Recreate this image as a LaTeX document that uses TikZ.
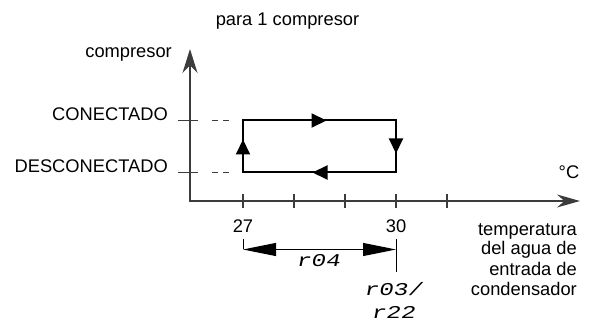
\documentclass[tikz,border=0pt]{standalone}
\usepackage{fontspec}
\setmainfont{Liberation Sans}
\newfontfamily\lcdfont[FakeStretch=1.35,FakeSlant=0.2]{Liberation Mono}
\usetikzlibrary{arrows.meta,positioning,decorations.markings}
\definecolor{axgray}{RGB}{60,60,60}

\begin{document}
\begin{tikzpicture}[x=1pt,y=-1pt,
    every node/.style={font=\fontsize{18.3}{20}\selectfont,inner sep=0pt},
    axisline/.style={axgray,line width=1.3pt},
    tickline/.style={axgray,line width=1.1pt},
    loopline/.style={line width=2pt,line join=miter,postaction={decorate},
      decoration={markings,
        mark=at position 26pt with {\arrow[xshift=7pt]{Triangle[length=15pt,width=14pt]}},
        mark=at position 128.5pt with {\arrow[xshift=7pt]{Triangle[length=15pt,width=14pt]}},
        mark=at position 231pt with {\arrow[xshift=7pt]{Triangle[length=15pt,width=14pt]}},
        mark=at position 333.5pt with {\arrow[xshift=7pt]{Triangle[length=15pt,width=14pt]}}}},
    dimline/.style={line width=1pt},
    code/.style={font=\fontsize{18}{20}\lcdfont}]
  \useasboundingbox (0,0) rectangle (592,323);
  % Axes
  \coordinate (orig) at (190,201);
  \coordinate (ytip) at (190,49);
  \coordinate (xtip) at (580,201);
  \draw[axisline,{Stealth[length=24pt,width=15pt]}-{Stealth[length=23pt,width=13pt]}]
    (ytip) -- (orig) -- (xtip);
  \node[anchor=base] (title) at (287.5,26) {para 1 compresor};
  \node[anchor=base east] (ylab) at (172,58) {compresor};
  \node[anchor=base] (unit) at (569,179) {\textdegree C};
  \node[anchor=base east,align=right] (xlab) at (577,295)
    {temperatura\\del agua de\\entrada de\\condensador};
  % Ticks on the temperature axis
  \foreach \x in {243,294,345,396,447}{
    \draw[tickline] (\x,194) -- (\x,208);
  }
  \node[anchor=base] (t27) at (243,233) {27};
  \node[anchor=base] (t30) at (396,233) {30};
  % States of the compressor
  \foreach \y/\name/\txt in {120.5/on/CONECTADO,172.5/off/DESCONECTADO}{
    \node[anchor=base east] (\name lab) at (168,\y) {\txt};
    \draw[tickline] (178,\y) -- (198,\y);
    \draw[tickline,dash pattern=on 5.5pt off 5.5pt] (212,\y) -- (229,\y);
  }
  % Hysteresis loop
  \coordinate (lo27) at (243,172.5);
  \coordinate (hi27) at (243,120.5);
  \coordinate (hi30) at (396,120.5);
  \coordinate (lo30) at (396,172.5);
  \draw[loopline] (lo27) -- (hi27) -- (hi30) -- (lo30) -- cycle;
  % Differential
  \coordinate (d27) at (243,249.5);
  \coordinate (d30) at (396,249.5);
  \draw[dimline] (243,239) -- (d27);
  \draw[dimline] (396,239) -- (396,272);
  \draw[dimline,{Triangle[length=33pt,width=13pt]}-{Triangle[length=33pt,width=13pt]}]
    (d27) -- (d30);
  \node[code,anchor=base] (r04) at (318,266) {r04};
  \node[code,anchor=base] (r03) at (393,295) {r03/};
  \node[code,anchor=base] (r22) at (393,318) {r22};
\end{tikzpicture}
\end{document}
